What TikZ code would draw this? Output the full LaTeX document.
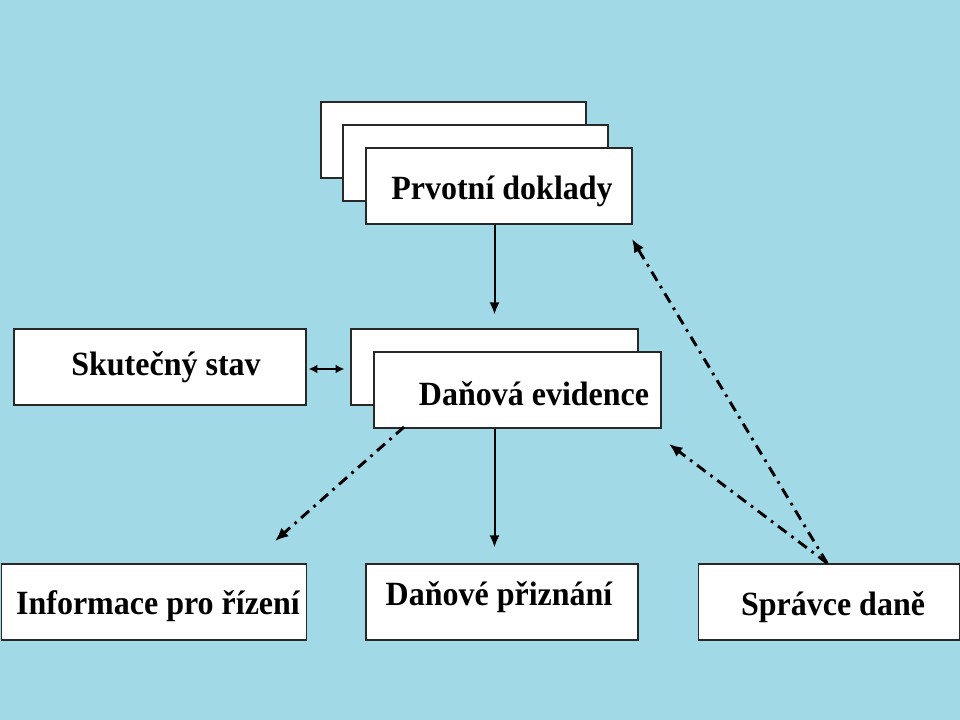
\documentclass[tikz,border=0pt]{standalone}
\usepackage{fontspec}
\setmainfont{Liberation Serif}
\usetikzlibrary{arrows.meta}
\definecolor{bgwater}{RGB}{162,217,230}
\definecolor{boxline}{RGB}{40,40,40}
\tikzset{
  x=0.75pt, y=-0.75pt,
  box/.style={draw=boxline, fill=white, line width=0.9pt, inner sep=0pt, rectangle},
  lbl/.style={font=\bfseries\fontsize{24}{28}\selectfont, anchor=base, inner sep=0pt, yscale=1.06},
  arr/.style={line width=1.5pt, -{Latex[length=9pt,width=7.5pt]}},
  darr/.style={line width=1.5pt, {Latex[length=6.5pt,width=6.5pt]}-{Latex[length=6.5pt,width=6.5pt]}},
  dd/.style={line width=2.2pt, dash pattern=on 8pt off 4.5pt on 2pt off 4.5pt, -{Latex[length=10pt,width=8.5pt]}}
}
\begin{document}
\begin{tikzpicture}
\fill[bgwater] (0,0) rectangle (960,720);
\useasboundingbox (0,0) rectangle (960,720);
% Prvotni doklady stack
\node[box, minimum width=198.75pt, minimum height=57pt] (P1) at (453.5,140) {};
\node[box, minimum width=198.75pt, minimum height=57pt] (P2) at (475.5,163) {};
\node[box, minimum width=199.5pt, minimum height=57pt] (P3) at (499,186) {};
\node[lbl] (tP) at (502,200) {Prvotní doklady};
% Skutecny stav
\node[box, minimum width=219pt, minimum height=57pt] (S) at (160,367) {};
\node[lbl] (tS) at (166,375) {Skutečný stav};
% Danova evidence stack
\node[box, minimum width=215.25pt, minimum height=57pt] (D1) at (494.5,367) {};
\node[box, minimum width=215.25pt, minimum height=57pt] (D2) at (517.5,390) {};
\node[lbl] (tD) at (534,405) {Daňová evidence};
% bottom row
\node[box, minimum width=228.75pt, minimum height=57pt] (I) at (154,602) {};
\node[lbl] (tI) at (158,614) {Informace pro řízení};
\node[box, minimum width=204pt, minimum height=57pt] (DP) at (502,602) {};
\node[lbl] (tDP) at (499,605) {Daňové přiznání};
\node[box, minimum width=195.75pt, minimum height=57pt] (SD) at (829,602) {};
\node[lbl] (tSD) at (833,615) {Správce daně};
% coordinates for free ends
\coordinate (dStart) at (404,427);
\coordinate (iEnd) at (275,541);
\coordinate (sdStart) at (827,563);
\coordinate (pEnd) at (632,239);
\coordinate (dEnd) at (669,444);
% connectors
\draw[arr] (P3.south -| D1.north) -- ([yshift=10.5pt]D1.north);
\draw[darr] ([xshift=1.5pt]S.east |- 0,369) -- ([xshift=-4.5pt]D1.west |- 0,369);
\draw[arr] (D2.south -| D1.north) -- ([yshift=12pt]DP.north -| D1.north);
\draw[dd] (dStart) -- (iEnd);
\draw[dd] (sdStart) -- (pEnd);
\draw[dd] (sdStart) -- (dEnd);
\end{tikzpicture}
\end{document}
